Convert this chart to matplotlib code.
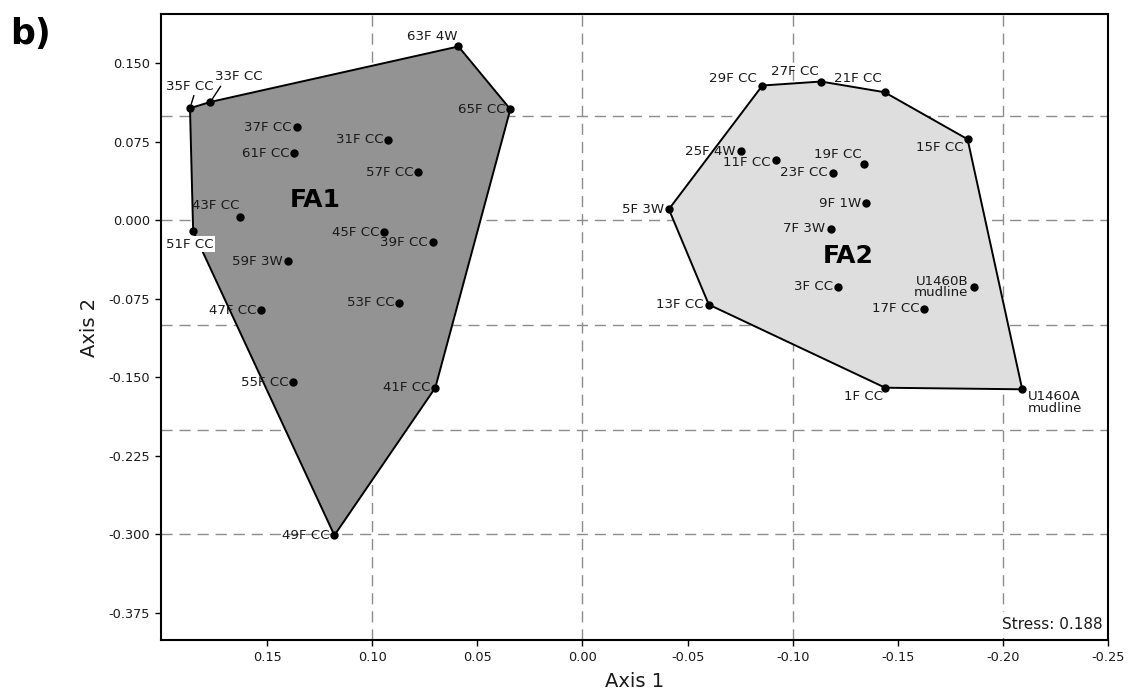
import numpy as np
import matplotlib
matplotlib.use("Agg")
import matplotlib.pyplot as plt
from matplotlib.ticker import FormatStrFormatter

plt.rcParams['font.family'] = ['DejaVu Sans']
plt.rcParams['axes.unicode_minus'] = False

# ---------------- data ----------------
fa1_names = ["63F 4W", "35F CC", "33F CC", "65F CC", "37F CC", "31F CC", "61F CC",
             "57F CC", "43F CC", "51F CC", "45F CC", "39F CC", "59F 3W", "53F CC",
             "47F CC", "55F CC", "41F CC", "49F CC"]
fa1_x = [0.059, 0.1867, 0.177, 0.0343, 0.136, 0.0924, 0.137,
         0.0781, 0.1629, 0.1852, 0.0943, 0.071, 0.140, 0.0871,
         0.1529, 0.1376, 0.070, 0.118]
fa1_y = [0.166, 0.107, 0.113, 0.106, 0.089, 0.077, 0.064,
         0.046, 0.003, -0.0105, -0.0115, -0.021, -0.039, -0.079,
         -0.086, -0.155, -0.160, -0.301]

fa2_names = ["29F CC", "27F CC", "21F CC", "15F CC", "25F 4W", "11F CC", "19F CC",
             "23F CC", "5F 3W", "9F 1W", "7F 3W", "3F CC", "U1460B\nmudline",
             "13F CC", "17F CC", "1F CC", "U1460A\nmudline"]
fa2_x = [-0.0856, -0.1135, -0.1437, -0.1832, -0.0754, -0.092, -0.1338,
         -0.119, -0.0411, -0.1348, -0.118, -0.1217, -0.1863,
         -0.0601, -0.1627, -0.144, -0.2092]
fa2_y = [0.1287, 0.1325, 0.1223, 0.0774, 0.0659, 0.0576, 0.0538,
         0.0452, 0.0105, 0.016, -0.008, -0.0637, -0.064,
         -0.0806, -0.0844, -0.160, -0.1615]

group_names = ["FA1", "FA2"]
group_label_pos = [(0.127, 0.019), (-0.1262, -0.034)]
stress_value = 0.188

x_ticks = [0.15, 0.10, 0.05, 0.00, -0.05, -0.10, -0.15, -0.20, -0.25]
y_ticks = [0.150, 0.075, 0.000, -0.075, -0.150, -0.225, -0.300, -0.375]
grid_x = [0.10, 0.00, -0.10, -0.20]
grid_y = [0.1, 0.0, -0.1, -0.2, -0.3]

# label placement (offset in pixels, ha, va) ; default left of point
default_place = (-5, 0, 'right', 'center')
placement = {
    "63F 4W": (-1, 10, 'right', 'center'),
    "35F CC": (0, 22, 'center', 'center'),
    "33F CC": (5, 25, 'left', 'center'),
    "43F CC": (-1, 12, 'right', 'center'),
    "51F CC": (-3, -13, 'center', 'center'),
    "29F CC": (-6, 7, 'right', 'center'),
    "27F CC": (-2, 10, 'right', 'center'),
    "21F CC": (-3, 14, 'right', 'center'),
    "15F CC": (-4, -8, 'right', 'center'),
    "11F CC": (-5, -3, 'right', 'center'),
    "19F CC": (-2, 9, 'right', 'center'),
    "1F CC": (-2, -9, 'right', 'center'),
    "U1460A\nmudline": (6, -1, 'left', 'top'),
    "U1460B\nmudline": (-6, 0, 'right', 'center'),
}
leaders = {"35F CC": (0.6, 0.0), "33F CC": (0.15, 0.0)}
white_box = {"51F CC"}


def convex_hull(xs, ys):
    pts = sorted(set(zip(xs, ys)))

    def cross(o, a, b):
        return (a[0] - o[0]) * (b[1] - o[1]) - (a[1] - o[1]) * (b[0] - o[0])
    lower, upper = [], []
    for p in pts:
        while len(lower) >= 2 and cross(lower[-2], lower[-1], p) <= 0:
            lower.pop()
        lower.append(p)
    for p in reversed(pts):
        while len(upper) >= 2 and cross(upper[-2], upper[-1], p) <= 0:
            upper.pop()
        upper.append(p)
    return np.array(lower[:-1] + upper[:-1])


fig = plt.figure(figsize=(11.32, 6.94), dpi=100)
ax = fig.add_axes([0.1422, 0.0778, 0.8366, 0.902])

text_color = '#1a1a1a'

for gx in grid_x:
    ax.axvline(gx, color='#8c8c8c', lw=1.0, ls=(0, (8, 5)), zorder=0)
for gy in grid_y:
    ax.axhline(gy, color='#8c8c8c', lw=1.0, ls=(0, (8, 5)), zorder=0)

groups = [(fa1_names, fa1_x, fa1_y, '#939393'), (fa2_names, fa2_x, fa2_y, '#dedede')]
for names, xs, ys, fc in groups:
    hull = convex_hull(xs, ys)
    ax.fill(hull[:, 0], hull[:, 1], facecolor=fc, edgecolor='black', lw=1.4, zorder=1)
    ax.plot(xs, ys, 'o', color='black', ms=5, zorder=3)
    for n, x, y in zip(names, xs, ys):
        dx, dy, ha, va = placement.get(n, default_place)
        kw = {}
        if n in leaders:
            kw['arrowprops'] = dict(arrowstyle='-', lw=1.0, color='black',
                                    shrinkA=0, shrinkB=3, relpos=leaders[n])
        if n in white_box:
            kw['bbox'] = dict(boxstyle='square,pad=0.1', fc='white', ec='none')
        ax.annotate(n, (x, y), xytext=(dx, dy), textcoords='offset pixels',
                    ha=ha, va=va, fontsize=9.6, color=text_color,
                    linespacing=0.85, zorder=2, **kw)

for name, (gx, gy) in zip(group_names, group_label_pos):
    ax.text(gx, gy, name, fontsize=18, fontweight='bold', color='black',
            ha='center', va='center', zorder=4)

ax.text(0.994, 0.012, f"Stress: {stress_value:.3f}", transform=ax.transAxes,
        ha='right', va='bottom', fontsize=11, color=text_color, zorder=5,
        bbox=dict(boxstyle='square,pad=0.35', fc='white', ec='none'))

ax.set_xlim(0.2005, -0.25)
ax.set_ylim(-0.401, 0.197)
ax.set_xticks(x_ticks)
ax.set_yticks(y_ticks)
ax.xaxis.set_major_formatter(FormatStrFormatter('%.2f'))
ax.yaxis.set_major_formatter(FormatStrFormatter('%.3f'))
ax.tick_params(direction='out', length=4, width=1, labelsize=9.3,
               labelcolor=text_color, pad=4)
for s in ax.spines.values():
    s.set_linewidth(1.5)
    s.set_color('black')
    s.set_zorder(6)

ax.set_xlabel("Axis 1", fontsize=14, color=text_color, labelpad=6)
ax.set_ylabel("Axis 2", fontsize=14, color=text_color, labelpad=7)

fig.text(0.009, 0.975, "b)", fontsize=25, fontweight='bold', ha='left', va='top')

fig.savefig("out.png", dpi=100)
